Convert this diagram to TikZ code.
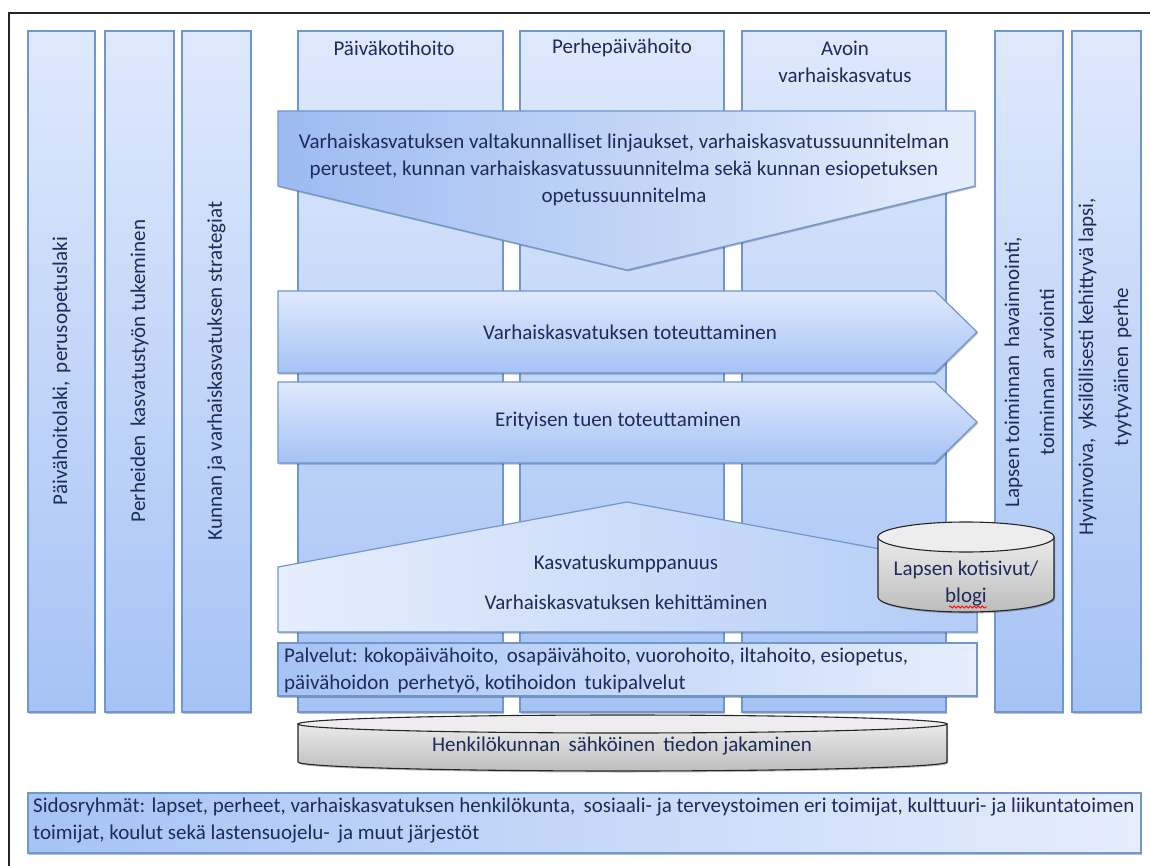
\documentclass[tikz,border=0pt]{standalone}
\usepackage{fontspec}
\setmainfont{Carlito}
\usetikzlibrary{shadows,decorations.pathmorphing}
\definecolor{txtc}{HTML}{1F2B5B}
\definecolor{bord}{HTML}{6F96CD}
\definecolor{lite}{HTML}{DFE9FC}
\definecolor{midb}{HTML}{A6C3F5}
\definecolor{darkb}{HTML}{9DBBF1}
\definecolor{pale}{HTML}{E6EEFC}
\definecolor{gtop}{HTML}{EBEBEB}
\definecolor{gbot}{HTML}{BDBDBD}
\begin{document}
\begin{tikzpicture}[x=1pt,y=-1pt,
  shad/.style={drop shadow={shadow xshift=1.2pt,shadow yshift=-1.5pt,opacity=0.25,fill=black}},
  colbox/.style={draw=bord,line width=1.2pt,top color=lite,bottom color=midb,shad},
  vgrad/.style={draw=bord,line width=1.2pt,top color=lite,bottom color=midb,shad},
  hgradL/.style={draw=bord,line width=1.2pt,left color=darkb,right color=pale,shad},
  hgradR/.style={draw=bord,line width=1.2pt,left color=pale,right color=midb!85!white,shad},
  barbox/.style={draw=bord,line width=1.2pt,left color=midb,right color=pale,shad},
  cyl/.style={draw=black!85,line width=1.1pt,top color=gtop,bottom color=gbot,shad},
  cyltop/.style={draw=black!85,line width=1.1pt,fill=gtop!90!white},
  txt/.style={font=\fontsize{21}{27}\selectfont,text=txtc,inner sep=0pt},
  wavy/.style={draw=red,line width=0.8pt,decorate,decoration={snake,amplitude=1pt,segment length=4pt}}
]
\useasboundingbox (0,0) rectangle (1150,866);
\fill[white] (0,0) rectangle (1150,866);
% outer frame
\draw[line width=1.6pt,black!85] (1150,13) -- (9,13) -- (9,866);

% left columns
\path[colbox] (28,31) rectangle (95,712);
\path[colbox] (105,31) rectangle (174,712);
\path[colbox] (182,31) rectangle (251,712);
% middle columns
\path[colbox] (298,31) rectangle (503,712);
\path[colbox] (520,31) rectangle (724,712);
\path[colbox] (742,31) rectangle (946,712);
% right columns
\path[colbox] (995,31) rectangle (1063,712);
\path[colbox] (1072,31) rectangle (1141,712);

% column labels
\node[txt,rotate=90] (lc1) at (61.5,371) {Päivähoitolaki,\, perusopetuslaki};
\node[txt,rotate=90] (lc2) at (139.5,371) {Perheiden\, kasvatustyön tukeminen};
\node[txt,rotate=90] (lc3) at (216.5,371) {Kunnan ja varhaiskasvatuksen strategiat};
\node[txt] (mc1) at (394,48) {Päiväkotihoito};
\node[txt] (mc2) at (622,48) {Perhepäivähoito};
\node[txt,align=center] (mc3) at (845,61.5) {Avoin\\varhaiskasvatus};
\node[txt,rotate=90,align=center] (rc1) at (1029.5,372) {Lapsen toiminnan\, havainnointi,\\[8pt]toiminnan\, arviointi};
\node[txt,rotate=90,align=center] (rc2) at (1105,367) {Hyvinvoiva,\, yksilöllisesti kehittyvä lapsi,\\[8pt]tyytyväinen\, perhe};

% top down-arrow
\path[hgradL] (278,111) -- (975,111) -- (975,186) -- (627,270) -- (278,186) -- cycle;
\node[txt,align=center] (ta) at (624,170) {Varhaiskasvatuksen valtakunnalliset linjaukset, varhaiskasvatussuunnitelman\\perusteet, kunnan varhaiskasvatussuunnitelma sekä kunnan esiopetuksen\\opetussuunnitelma};

% right arrows
\path[vgrad] (278,291) -- (935,291) -- (977,332) -- (935,373) -- (278,373) -- cycle;
\node[txt] (a2) at (630,332) {Varhaiskasvatuksen toteuttaminen};
\path[vgrad] (278,382) -- (935,382) -- (977,422) -- (935,463) -- (278,463) -- cycle;
\node[txt] (a3) at (618,421) {Erityisen tuen toteuttaminen};

% up house shape
\path[hgradR] (278,567) -- (627,502) -- (977,567) -- (977,632) -- (278,632) -- cycle;
\node[txt] (h1) at (626,564) {Kasvatuskumppanuus};
\node[txt] (h2) at (626,602) {Varhaiskasvatuksen kehittäminen};

% blog cylinder
\path[cyl] (878,537) -- (878,597) arc[start angle=180,end angle=360,x radius=88pt,y radius=15pt] -- (1054,537) -- cycle;
\path[cyltop] (966,537) ellipse[x radius=88pt,y radius=15pt];
\node[txt,align=center] (blog) at (966,584) {Lapsen kotisivut/\\blogi};
\coordinate (w1) at (949,607);
\coordinate (w2) at (987,607);
\path[wavy] (w1) -- (w2);

% services bar
\path[barbox] (278,643) rectangle (977,696);
\node[txt,anchor=west,align=left] (serv) at (284,670) {Palvelut: kokopäivähoito,\, osapäivähoito, vuorohoito, iltahoito, esiopetus,\\päivähoidon\, perhetyö, kotihoidon\, tukipalvelut};

% staff cylinder
\path[cyl] (298,724) -- (298,762) arc[start angle=180,end angle=360,x radius=324.5pt,y radius=9pt] -- (947,724) -- cycle;
\path[cyltop] (622.5,724) ellipse[x radius=324.5pt,y radius=9pt];
\node[txt] (staff) at (622,746) {Henkilökunnan\, sähköinen\, tiedon jakaminen};

% stakeholders bar
\path[barbox] (28,793) rectangle (1141,853);
\node[txt,anchor=west,align=left] (sido) at (33,821) {Sidosryhmät: lapset, perheet, varhaiskasvatuksen henkilökunta,\, sosiaali- ja terveystoimen eri toimijat, kulttuuri- ja liikuntatoimen\\toimijat, koulut sekä lastensuojelu-\, ja muut järjestöt};
\end{tikzpicture}
\end{document}
